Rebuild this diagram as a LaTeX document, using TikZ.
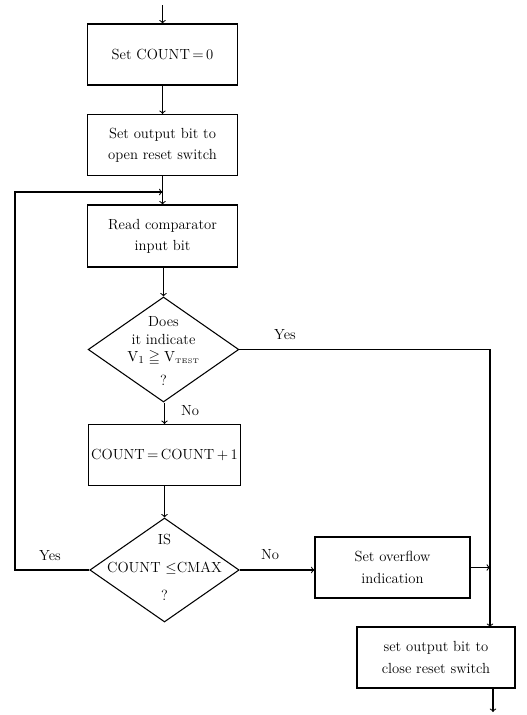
\documentclass[tikz,border=0pt]{standalone}
\usepackage{amssymb}
\usepackage{amsmath}
\usetikzlibrary{arrows, calc, shapes.geometric}

\tikzset{
    procbox/.style={draw, minimum width=113pt, minimum height=45.75pt, inner sep=2pt, align=center, font=\fontsize{11}{16}\selectfont},
    decision/.style={draw, diamond, minimum width=113pt, minimum height=78.75pt, inner sep=0pt},
    dectext/.style={align=center, inner sep=0pt, font=\fontsize{11}{13}\selectfont},
    flowlabel/.style={font=\fontsize{11}{13}\selectfont, inner sep=1pt}
}

\begin{document}
\begin{tikzpicture}[x=0.75pt, y=-0.75pt, line width=0.8pt, >=to]
    \useasboundingbox (0,0) rectangle (527,715);
    \coordinate (start) at (162.5,5);
    \node[procbox] (setcount) at (162.5,54.5) {Set COUNT$\,=\,$0};
    \node[procbox] (openreset) at (162.5,145) {Set output bit to\\open reset switch};
    \node[procbox, minimum height=46.5pt] (readbit) at (162.5,236) {Read comparator\\input bit};
    \node[decision] (testv) at (163.5,349.5) {};
    \node[dectext] (testvtext) at (163.5,351) {Does\\it indicate\\$\mathrm{V_1}\geqq\mathrm{V_{\scriptscriptstyle TEST}}$\\[5pt]?};
    \node[procbox] (inccount) at (164.5,455) {COUNT$\,=\,$COUNT$\,+\,$1};
    \node[decision, minimum width=112pt, minimum height=78pt] (testmax) at (164.5,570) {};
    \node[dectext, font=\fontsize{11}{21}\selectfont] (testmaxtext) at (164.5,567) {IS\\COUNT $\leq$CMAX\\?};
    \node[procbox, minimum width=116.25pt] (overflow) at (392.5,567.5) {Set overflow\\indication};
    \node[procbox, minimum width=118.5pt] (closereset) at (436,657.5) {set output bit to\\close reset switch};
    \coordinate (loopleft) at (15,570);
    \coordinate (looptop) at (15,192);
    \coordinate (loopin) at (162.5,192);
    \coordinate (yesright) at (490,349.5);
    \coordinate (closein) at (490,627);
    \coordinate (joinover) at (490,567.5);
    \coordinate (finish) at (493,712);
    \draw[->] (start) -- (setcount);
    \draw[->] (setcount) -- (openreset);
    \draw[->] (openreset) -- (readbit);
    \draw[->] (readbit.south -| testv) -- (testv);
    \draw[->] (testv.south -| inccount) -- (inccount);
    \draw[->] (inccount) -- (testmax);
    \draw[->] (testmax.west) -- (loopleft) -- (looptop) -- (loopin);
    \draw[->] (testmax.east) -- (testmax.east -| overflow.west);
    \draw[->] (testv.east) -- (yesright) -- (closein);
    \draw[->] (overflow.east) -- (joinover);
    \draw[->] (closereset.south -| finish) -- (finish);
    \node[flowlabel] (yesone) at (285,335) {Yes};
    \node[flowlabel] (noone) at (190,411) {No};
    \node[flowlabel] (yestwo) at (50,556) {Yes};
    \node[flowlabel] (notwo) at (270,555) {No};
\end{tikzpicture}
\end{document}
